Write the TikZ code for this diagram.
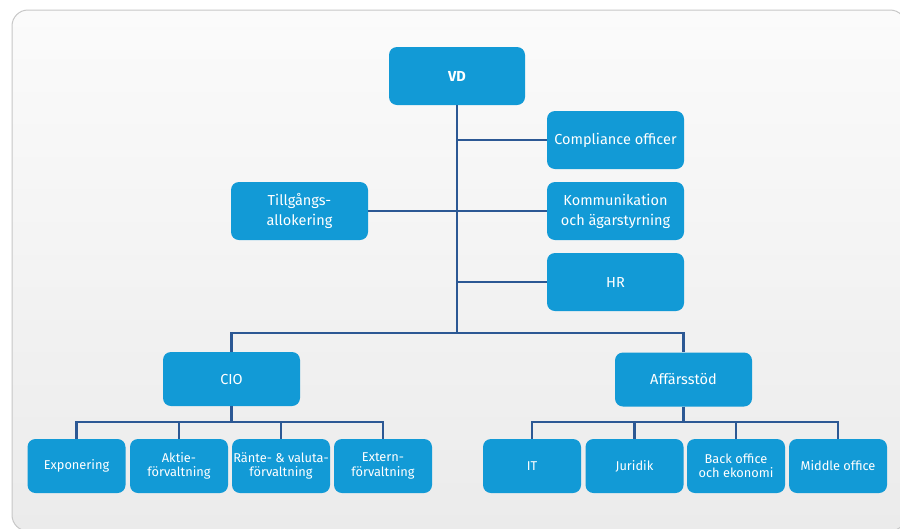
\documentclass[tikz,border=0pt]{standalone}
\usepackage{fontspec}
\setmainfont{Fira Sans}
\usepackage{tikz}
\usetikzlibrary{calc}
\definecolor{boxblue}{RGB}{18,154,214}
\definecolor{linkblue}{RGB}{44,88,148}
\definecolor{paneltop}{RGB}{251,251,251}
\definecolor{panelbot}{RGB}{235,235,235}
\tikzset{
  unit/.style={rectangle, rounded corners=8pt, fill=boxblue, text=white, align=center, inner sep=0pt, minimum width=137pt, minimum height=58pt, font=\fontsize{14.5}{20}\selectfont},
  subunit/.style={unit, minimum width=98pt, minimum height=54pt, font=\fontsize{12.8}{14.5}\selectfont},
  link/.style={draw=linkblue, line width=2.4pt}
}

\begin{document}
\begin{tikzpicture}[x=1pt, y=-1pt]
\useasboundingbox (0,0) rectangle (900,528);
\shade[top color=paneltop, bottom color=panelbot, draw=black!22, line width=1pt, rounded corners=16pt] (12,10) rectangle (906,531);
\node[unit, minimum width=136pt, font=\fontsize{14.5}{20}\selectfont\bfseries] (vd) at (457,76) {VD};
\node[unit] (comp) at (615.5,140) {Compliance officer};
\node[unit] (komm) at (615.5,211) {Kommunikation\\och ägarstyrning};
\node[unit] (hr) at (615.5,282) {HR};
\node[unit] (tillg) at (299.5,211) {Tillgångs-\\allokering};
\node[unit, minimum height=54pt] (cio) at (231.5,379) {CIO};
\node[unit, minimum height=54pt] (aff) at (683.5,379.5) {Affärsstöd};
\node[subunit] (expo) at (76.5,466) {Exponering};
\node[subunit] (aktie) at (179,466) {Aktie-\\förvaltning};
\node[subunit] (rante) at (281,466) {Ränte- \& valuta-\\förvaltning};
\node[subunit] (extern) at (383,466) {Extern-\\förvaltning};
\node[subunit] (it) at (532,466) {IT};
\node[subunit] (jur) at (634.5,466) {Juridik};
\node[subunit] (back) at (736,466) {Back office\\och ekonomi};
\node[subunit] (middle) at (838,466) {Middle office};
\coordinate (bar) at (457,333);
\coordinate (cbar) at (231.5,422);
\coordinate (abar) at (683.5,422);
\draw[link] (vd.south) -- (bar);
\draw[link] (comp.west) -- (vd.south |- comp.west);
\draw[link] (hr.west) -- (vd.south |- hr.west);
\draw[link] (tillg.east) -- (komm.west);
\draw[link] (cio.north) |- (bar) -| (aff.north);
\draw[link] (cio.south) -- (cbar);
\draw[link] (aff.south) -- (abar);
\foreach \n in {expo,aktie,rante,extern}
  \draw[link] (\n.north) |- (cbar);
\foreach \n in {it,jur,back,middle}
  \draw[link] (\n.north) |- (abar);
\end{tikzpicture}
\end{document}
